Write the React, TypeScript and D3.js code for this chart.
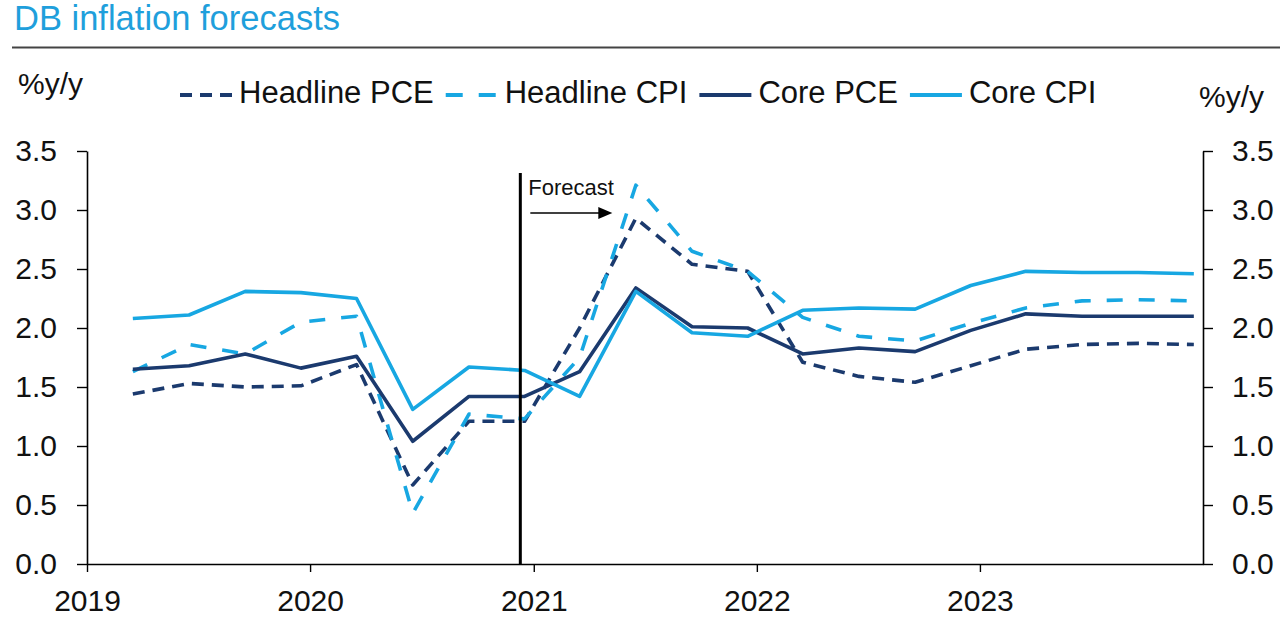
import { useEffect, useRef } from 'react';
import * as d3 from 'd3';

// quarterly observations, 2019Q1 .. 2023Q4
const quarters = [
  '2019-03-17', '2019-06-17', '2019-09-17', '2019-12-17',
  '2020-03-17', '2020-06-17', '2020-09-17', '2020-12-17',
  '2021-03-17', '2021-06-17', '2021-09-17', '2021-12-17',
  '2022-03-17', '2022-06-17', '2022-09-17', '2022-12-17',
  '2023-03-17', '2023-06-17', '2023-09-17', '2023-12-17',
];

const headlinePCE = [1.44, 1.53, 1.50, 1.51, 1.69, 0.67, 1.21, 1.21, 2.00, 2.93, 2.54, 2.48, 1.71, 1.59, 1.54, 1.68, 1.82, 1.86, 1.87, 1.86];
const headlineCPI = [1.63, 1.86, 1.78, 2.05, 2.10, 0.43, 1.27, 1.23, 1.75, 3.21, 2.65, 2.48, 2.09, 1.93, 1.89, 2.04, 2.17, 2.23, 2.24, 2.23];
const corePCE = [1.65, 1.68, 1.78, 1.66, 1.76, 1.04, 1.42, 1.42, 1.63, 2.34, 2.01, 2.00, 1.78, 1.83, 1.80, 1.98, 2.12, 2.10, 2.10, 2.10];
const coreCPI = [2.08, 2.11, 2.31, 2.30, 2.25, 1.31, 1.67, 1.64, 1.42, 2.31, 1.96, 1.93, 2.15, 2.17, 2.16, 2.36, 2.48, 2.47, 2.47, 2.46];

const seriesNames = ['Headline PCE', 'Headline CPI', 'Core PCE', 'Core CPI'];
const yTicks = [0, 0.5, 1, 1.5, 2, 2.5, 3, 3.5];
const yearTicks = ['2019', '2020', '2021', '2022', '2023'];
const forecastDate = '2020-12-10';

const NAVY = '#1b3a6e';
const SKY = '#17a7e2';
const FONT = '"Liberation Sans", Arial, sans-serif';

export default function App() {
  const svgRef = useRef<SVGSVGElement>(null);

  useEffect(() => {
    if (!svgRef.current) return;
    const width = 1280;
    const height = 617;
    const svg = d3.select(svgRef.current);
    svg.selectAll('*').remove();
    svg.attr('width', width).attr('height', height);

    const parse = d3.timeParse('%Y-%m-%d');
    const dates = quarters.map(q => parse(q) as Date);

    const x = d3.scaleTime()
      .domain([new Date(2019, 0, 1), new Date(2024, 0, 1)])
      .range([87, 1203]);
    const y = d3.scaleLinear().domain([0, 3.5]).range([564, 151]);

    const series = [
      { name: seriesNames[0], values: headlinePCE, color: NAVY, dash: '12,8', legendDash: '12,8' },
      { name: seriesNames[1], values: headlineCPI, color: SKY, dash: '16,16', legendDash: '17,16' },
      { name: seriesNames[2], values: corePCE, color: NAVY, dash: null, legendDash: null },
      { name: seriesNames[3], values: coreCPI, color: SKY, dash: null, legendDash: null },
    ];

    // Title + rule
    svg.append('text')
      .attr('x', 14).attr('y', 30)
      .attr('font-family', FONT).attr('font-size', 34.5)
      .attr('fill', '#1f9fdc')
      .text('DB inflation forecasts');
    svg.append('line')
      .attr('x1', 12).attr('x2', 1280)
      .attr('y1', 47.5).attr('y2', 47.5)
      .attr('stroke', '#444').attr('stroke-width', 2);

    // Unit labels
    svg.append('text')
      .attr('x', 18).attr('y', 94)
      .attr('font-family', FONT).attr('font-size', 30).attr('fill', '#111')
      .text('%y/y');
    svg.append('text')
      .attr('x', 1199).attr('y', 107)
      .attr('font-family', FONT).attr('font-size', 30).attr('fill', '#111')
      .text('%y/y');

    // Legend
    let lx = 180;
    series.forEach(s => {
      svg.append('line')
        .attr('x1', lx).attr('x2', lx + 52)
        .attr('y1', 95).attr('y2', 95)
        .attr('stroke', s.color).attr('stroke-width', 4)
        .attr('stroke-dasharray', s.legendDash);
      const t = svg.append('text')
        .attr('x', lx + 59).attr('y', 103)
        .attr('font-family', FONT).attr('font-size', 31).attr('fill', '#111')
        .text(s.name);
      const w = (t.node() as SVGTextElement).getComputedTextLength();
      lx += 59 + w + 12;
    });

    // Axes
    const fmt = d3.format('.1f');
    const left = svg.append('g')
      .attr('transform', 'translate(87,0)')
      .call(d3.axisLeft(y).tickValues(yTicks).tickSize(10).tickSizeOuter(0).tickPadding(20).tickFormat(d => fmt(d as number)));
    const right = svg.append('g')
      .attr('transform', 'translate(1203,0)')
      .call(d3.axisRight(y).tickValues(yTicks).tickSize(10).tickSizeOuter(0).tickPadding(19).tickFormat(d => fmt(d as number)));
    const bottom = svg.append('g')
      .attr('transform', 'translate(0,564)')
      .call(d3.axisBottom(x).tickValues(yearTicks.map(yr => new Date(+yr, 0, 1))).tickSize(8).tickSizeOuter(0).tickFormat(d => d3.timeFormat('%Y')(d as Date)));

    [left, right, bottom].forEach(a => {
      a.select('.domain').attr('stroke', '#000').attr('stroke-width', 1.6);
      a.selectAll('.tick line').attr('stroke', '#000').attr('stroke-width', 1.4);
      a.selectAll('.tick text').attr('font-family', FONT).attr('font-size', 30).attr('fill', '#111');
    });
    bottom.selectAll('.tick text').attr('y', 47).attr('dy', '0');

    // Series lines
    const line = d3.line<number>()
      .x((_, i) => x(dates[i]))
      .y(d => y(d));

    series.forEach(s => {
      svg.append('path')
        .datum(s.values)
        .attr('d', line)
        .attr('fill', 'none')
        .attr('stroke', s.color)
        .attr('stroke-width', 3.6)
        .attr('stroke-linejoin', 'round')
        .attr('stroke-dasharray', s.dash);
    });

    // Forecast marker
    const fx = x(parse(forecastDate) as Date);
    svg.append('line')
      .attr('x1', fx).attr('x2', fx)
      .attr('y1', 173).attr('y2', y(0))
      .attr('stroke', '#000').attr('stroke-width', 3);
    svg.append('text')
      .attr('x', fx + 8).attr('y', 195)
      .attr('font-family', FONT).attr('font-size', 22).attr('fill', '#111')
      .text('Forecast');
    svg.append('line')
      .attr('x1', fx + 10).attr('x2', fx + 80)
      .attr('y1', 213).attr('y2', 213)
      .attr('stroke', '#000').attr('stroke-width', 1.5);
    svg.append('path')
      .attr('d', `M${fx + 92},213 L${fx + 78},207 L${fx + 78},219 Z`)
      .attr('fill', '#000');
  }, []);

  return (
    <div style={{ position: 'absolute', left: 0, top: 0, background: '#fff' }}>
      <svg ref={svgRef} />
    </div>
  );
}
